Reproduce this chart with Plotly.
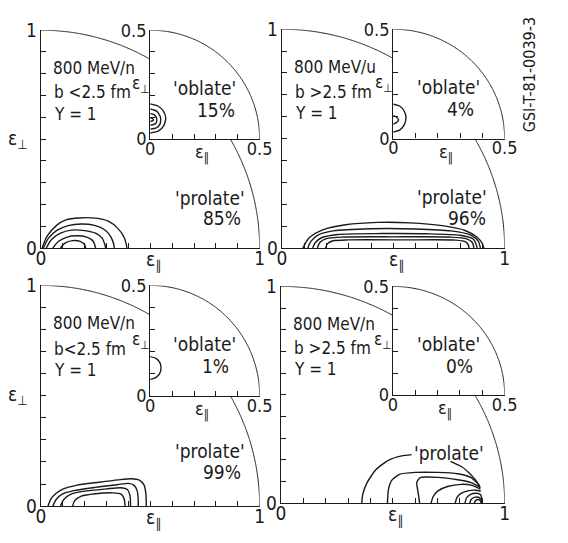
import numpy as np
import plotly.graph_objects as go

# ---------------------------------------------------------------------------
# Contour levels of the event distribution in the (eps_par, eps_perp) plane.
# Each list holds (eps_par, eps_perp) vertices of one contour line.
# ---------------------------------------------------------------------------

# Panel 1: 800 MeV/n, b < 2.5 fm
p1_c1 = [(0.006, 0), (0.028, 0.053), (0.072, 0.104), (0.115, 0.129), (0.175, 0.138),
         (0.249, 0.137), (0.308, 0.123), (0.352, 0.090), (0.382, 0.046), (0.394, 0)]
p1_c2 = [(0.012, 0), (0.035, 0.045), (0.075, 0.082), (0.125, 0.103), (0.185, 0.110),
         (0.245, 0.104), (0.290, 0.085), (0.318, 0.055), (0.332, 0.022), (0.336, 0)]
p1_c3 = [(0.025, 0), (0.050, 0.040), (0.090, 0.068), (0.140, 0.082), (0.200, 0.080),
         (0.250, 0.068), (0.280, 0.045), (0.293, 0.015), (0.296, 0)]
p1_c4 = [(0.055, 0), (0.080, 0.030), (0.120, 0.050), (0.160, 0.056), (0.210, 0.050),
         (0.240, 0.030), (0.250, 0)]
p1_c5 = [(0.090, 0), (0.110, 0.022), (0.145, 0.034), (0.180, 0.030), (0.200, 0.015),
         (0.205, 0)]
# oblate corner (inset), inset coordinates
p1_o1 = [(0, 0.162), (0.035, 0.152), (0.060, 0.128), (0.071, 0.096), (0.062, 0.062),
         (0.038, 0.038), (0, 0.028)]
p1_o2 = [(0, 0.138), (0.030, 0.128), (0.047, 0.100), (0.045, 0.070), (0.028, 0.052),
         (0, 0.046)]
p1_o3 = [(0, 0.118), (0.020, 0.110), (0.030, 0.090), (0.025, 0.072), (0, 0.064)]
p1_o4 = [(0, 0.098), (0.012, 0.093), (0.014, 0.086), (0, 0.081)]

# Panel 2: 800 MeV/u, b > 2.5 fm
p2_c1 = [(0.094, 0), (0.110, 0.030), (0.126, 0.050), (0.180, 0.082), (0.286, 0.106),
         (0.430, 0.117), (0.575, 0.115), (0.720, 0.102), (0.822, 0.080), (0.875, 0.050),
         (0.900, 0.020), (0.906, 0)]
p2_c2 = [(0.116, 0), (0.130, 0.030), (0.160, 0.058), (0.230, 0.078), (0.400, 0.088),
         (0.600, 0.087), (0.760, 0.078), (0.850, 0.058), (0.882, 0.030), (0.891, 0)]
p2_c3 = [(0.138, 0), (0.150, 0.025), (0.180, 0.048), (0.250, 0.062), (0.450, 0.066),
         (0.650, 0.065), (0.800, 0.058), (0.860, 0.040), (0.877, 0)]
p2_c4 = [(0.159, 0), (0.170, 0.025), (0.200, 0.043), (0.280, 0.050), (0.500, 0.051),
         (0.750, 0.050), (0.830, 0.042), (0.855, 0.025), (0.862, 0)]
p2_c5 = [(0.196, 0), (0.205, 0.020), (0.230, 0.033), (0.300, 0.037), (0.550, 0.037),
         (0.780, 0.036), (0.825, 0.028), (0.838, 0.012), (0.840, 0)]
p2_o1 = [(0, 0.157), (0.030, 0.148), (0.050, 0.124), (0.057, 0.095), (0.050, 0.065),
         (0.030, 0.040), (0, 0.030)]
p2_o2 = [(0, 0.105), (0.012, 0.100), (0.024, 0.085), (0.012, 0.072), (0, 0.066)]

# Panel 3: 800 MeV/n, b < 2.5 fm
p3_c1 = [(0.033, 0), (0.045, 0.030), (0.070, 0.058), (0.103, 0.078), (0.162, 0.094),
         (0.265, 0.108), (0.354, 0.119), (0.413, 0.124), (0.450, 0.118), (0.472, 0.095),
         (0.480, 0.055), (0.482, 0)]
p3_c2 = [(0.055, 0), (0.070, 0.030), (0.100, 0.055), (0.150, 0.070), (0.250, 0.085),
         (0.350, 0.097), (0.400, 0.103), (0.425, 0.095), (0.440, 0.070), (0.445, 0.030),
         (0.445, 0)]
p3_c3 = [(0.090, 0), (0.105, 0.030), (0.140, 0.055), (0.200, 0.068), (0.300, 0.078),
         (0.365, 0.083), (0.395, 0.075), (0.407, 0.050), (0.410, 0)]
p3_c4 = [(0.145, 0), (0.155, 0.025), (0.185, 0.045), (0.250, 0.056), (0.330, 0.060),
         (0.365, 0.055), (0.380, 0.035), (0.385, 0)]
p3_o1 = [(0, 0.177), (0.028, 0.168), (0.045, 0.148), (0.049, 0.125), (0.043, 0.100),
         (0.025, 0.082), (0, 0.074)]

# Panel 4: 800 MeV/n, b > 2.5 fm  (outer level interrupted by its label)
p4_c1a = [(0.361, 0), (0.366, 0.043), (0.385, 0.095), (0.425, 0.155), (0.480, 0.198),
          (0.540, 0.218), (0.584, 0.224)]
p4_c1b = [(0.758, 0.193), (0.808, 0.168), (0.848, 0.132), (0.876, 0.098), (0.890, 0.070)]
p4_c2 = [(0.476, 0), (0.480, 0.060), (0.495, 0.105), (0.530, 0.133), (0.600, 0.142),
         (0.700, 0.142), (0.790, 0.136), (0.850, 0.118), (0.890, 0.080)]
p4_c3 = [(0.620, 0), (0.613, 0.050), (0.607, 0.095), (0.622, 0.118), (0.700, 0.119),
         (0.790, 0.108), (0.850, 0.095), (0.891, 0.072)]
p4_c4 = [(0.671, 0), (0.680, 0.030), (0.702, 0.057), (0.745, 0.077), (0.805, 0.087),
         (0.855, 0.082), (0.892, 0.064)]
p4_c5 = [(0.779, 0), (0.786, 0.025), (0.805, 0.045), (0.840, 0.058), (0.872, 0.060),
         (0.893, 0.055)]
p4_c6 = [(0.823, 0), (0.829, 0.024), (0.846, 0.040), (0.872, 0.046), (0.892, 0.040),
         (0.898, 0.020), (0.899, 0)]
p4_c7 = [(0.844, 0), (0.851, 0.018), (0.868, 0.028), (0.887, 0.026), (0.896, 0.012),
         (0.897, 0)]
p4_c8 = [(0.864, 0), (0.870, 0.012), (0.883, 0.017), (0.893, 0.009), (0.895, 0)]

# Panel captions
beam_labels = ["800 MeV/n", "800 MeV/u", "800 MeV/n", "800 MeV/n"]
impact_labels = ["b <2.5 fm", "b >2.5 fm", "b<2.5 fm", "b >2.5 fm"]
gamma_labels = ["Y = 1", "Y = 1", "Y = 1", "Y = 1"]
oblate_share = ["15%", "4%", "1%", "0%"]
prolate_share = ["85%", "96%", "99%", ""]
main_ticks = [0, 1]
main_ticktext = ["0", "1"]
inset_ticks = [0, 0.5]
inset_ticktext = ["0", "0.5"]
minor_step = 0.1
unit_radius = 1.0
inset_radius = 0.5
sheet_id = "GSI-T-81-0039-3"

main_contours = [
    [p1_c1, p1_c2, p1_c3, p1_c4, p1_c5],
    [p2_c1, p2_c2, p2_c3, p2_c4, p2_c5],
    [p3_c1, p3_c2, p3_c3, p3_c4],
    [p4_c1a, p4_c1b, p4_c2, p4_c3, p4_c4, p4_c5, p4_c6, p4_c7, p4_c8],
]
inset_contours = [
    [p1_o1, p1_o2, p1_o3, p1_o4],
    [p2_o1, p2_o2],
    [p3_o1],
    [],
]

# ---------------------------------------------------------------------------
W, H = 568, 543
INK = "#1a1a1a"
FONT = "DejaVu Sans Condensed, DejaVu Sans, Liberation Sans Narrow, sans-serif"

# panel boxes in pixels: left, right, top, bottom
boxes = [(37, 263, 20, 247), (286, 516, 19, 247), (37, 263, 286, 516), (285, 516, 287, 513)]
prolate_pos = [(0.774, 0.229), (0.765, 0.233), (0.774, 0.249), (0.753, 0.232)]
share_pos = [(0.827, 0.139), (0.830, 0.139), (0.827, 0.154), None]

fig = go.Figure()
layout = dict(width=W, height=H, margin=dict(l=0, r=0, t=0, b=0),
              paper_bgcolor="white", plot_bgcolor="white", showlegend=False)
annotations = []


def axis_style(rng, tickvals, ticktext, domain, anchor, size, standoff):
    return dict(range=rng, domain=domain, anchor=anchor, showline=True, linecolor=INK,
                linewidth=1.4, ticks="inside", ticklen=5, tickwidth=1.2, tickcolor=INK,
                tickvals=tickvals, ticktext=ticktext, showgrid=False, zeroline=False,
                minor=dict(ticks="inside", tick0=0, dtick=minor_step, ticklen=5,
                           tickwidth=1.2, tickcolor=INK, showgrid=False),
                ticklabelstandoff=standoff,
                tickfont=dict(family=FONT, size=size, color=INK), fixedrange=True)


def line(pts, xa, ya, width=1.4, smooth=0.6):
    xs = [p[0] for p in pts]
    ys = [p[1] for p in pts]
    fig.add_trace(go.Scatter(x=xs, y=ys, mode="lines", xaxis=xa, yaxis=ya,
                             line=dict(color=INK, width=width, shape="spline", smoothing=smooth),
                             hoverinfo="skip"))


def text(s, x, y, xr, yr, size=17, xanchor="center", angle=0):
    annotations.append(dict(text=s, x=x, y=y, xref=xr, yref=yr, showarrow=False,
                            xanchor=xanchor, yanchor="middle", textangle=angle,
                            font=dict(family=FONT, size=size, color=INK)))


for i, (l, r, t, b) in enumerate(boxes):
    mx, ix = 2 * i + 1, 2 * i + 2
    xd = [l / W, r / W]
    yd = [1 - b / H, 1 - t / H]
    xm = (xd[0] + xd[1]) / 2
    ym = (yd[0] + yd[1]) / 2
    layout[f"xaxis{mx}"] = axis_style([0, 1], main_ticks, main_ticktext, xd, f"y{mx}", 19, -7)
    layout[f"yaxis{mx}"] = axis_style([0, 1], main_ticks, main_ticktext, yd, f"x{mx}", 19, -1)
    layout[f"xaxis{ix}"] = axis_style([0, 0.5], inset_ticks, inset_ticktext, [xm, xd[1]], f"y{ix}", 18, -7)
    layout[f"yaxis{ix}"] = axis_style([0, 0.5], inset_ticks, inset_ticktext, [ym, yd[1]], f"x{ix}", 18, -1)
    xa, ya = f"x{mx}", f"y{mx}"
    xb, yb = f"x{ix}", f"y{ix}"

    # outer boundary eps_par^2 + eps_perp^2 = 1, left open where the inset sits
    for a0, a1 in ((90, 60), (30, 0)):
        th = np.radians(np.linspace(a0, a1, 40))
        line(list(zip(unit_radius * np.cos(th), unit_radius * np.sin(th))), xa, ya, 1.0, 0)
    th = np.radians(np.linspace(90, 0, 60))
    line(list(zip(inset_radius * np.cos(th), inset_radius * np.sin(th))), xb, yb, 1.0, 0)

    for c in main_contours[i]:
        line(c, xa, ya, 1.4, 0.55 if i == 3 else 0.7)
    for c in inset_contours[i]:
        line(c, xb, yb)

    # captions
    text(beam_labels[i], 0.045, 0.828, xa, ya, xanchor="left")
    text(impact_labels[i], 0.05, 0.714, xa, ya, xanchor="left")
    text(gamma_labels[i], 0.05, 0.617, xa, ya, xanchor="left")
    # axis names placed in paper coordinates (they sit outside the data range)
    if i in (0, 2):
        text("ε<sub>⊥</sub>", (l - 24) / W, 1 - ((t + b) / 2) / H, "paper", "paper", size=19)
    text("ε<sub>∥</sub>", (l + 0.513 * (r - l)) / W, 1 - (b + 13) / H, "paper", "paper", size=19)
    text("ε<sub>⊥</sub>", 0.457, 0.752, xa, ya, size=17)
    text("ε<sub>∥</sub>", 0.735, 0.436, xa, ya, size=18)
    text("'oblate'", 0.748, 0.736, xa, ya, size=19)
    text(oblate_share[i], 0.80, 0.634, xa, ya, size=19)
    px, py = prolate_pos[i]
    text("'prolate'", px, py, xa, ya, size=19)
    if share_pos[i] is not None:
        sx, sy = share_pos[i]
        text(prolate_share[i], sx, sy, xa, ya, size=19)

text(sheet_id, 541 / W, 1 - 66 / H, "paper", "paper", size=16, angle=-90)

layout["annotations"] = annotations
fig.update_layout(**layout)
fig.write_html("out.html")
